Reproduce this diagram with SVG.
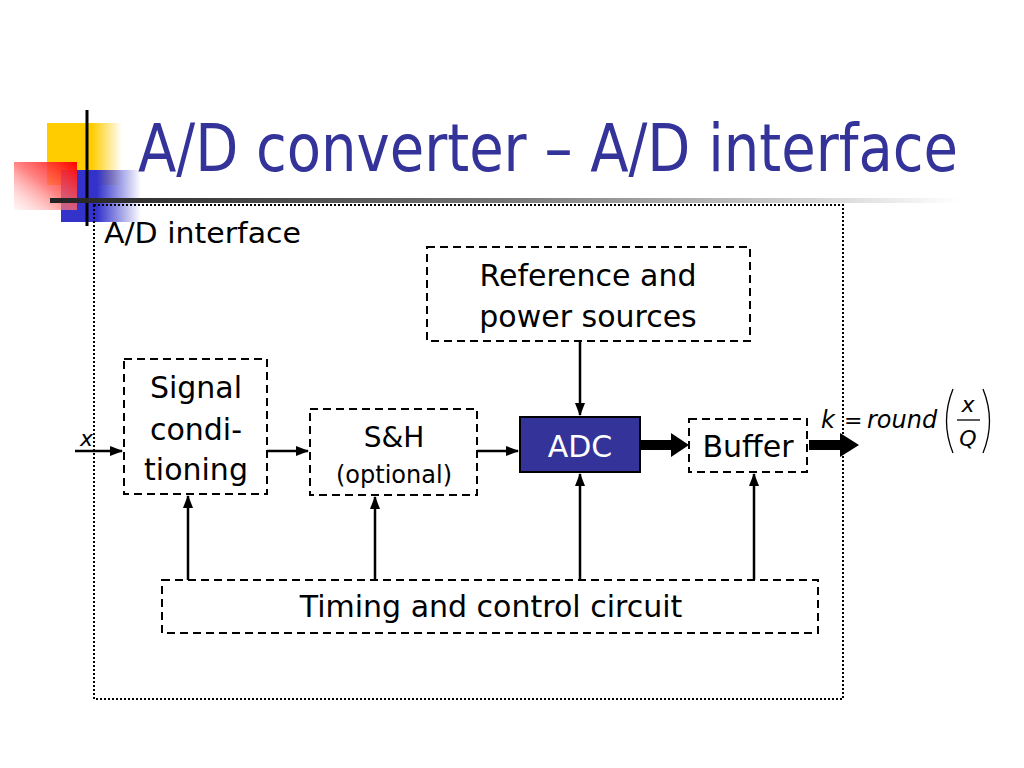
<svg xmlns="http://www.w3.org/2000/svg" width="1024" height="768" viewBox="0 0 1024 768">
<defs>
<linearGradient id="gy" x1="0" y1="0" x2="1" y2="0"><stop offset="0" stop-color="#FFCC00"/><stop offset="0.6" stop-color="#FFCC00"/><stop offset="1" stop-color="#FFCC00" stop-opacity="0"/></linearGradient>
<linearGradient id="gb" x1="0" y1="0" x2="1" y2="0"><stop offset="0" stop-color="#3333CC"/><stop offset="0.45" stop-color="#3333CC"/><stop offset="1" stop-color="#3333CC" stop-opacity="0"/></linearGradient>
<linearGradient id="gr" x1="1" y1="0" x2="0" y2="1"><stop offset="0" stop-color="#FF0000"/><stop offset="0.5" stop-color="#FF6666" stop-opacity="0.8"/><stop offset="1" stop-color="#FFCCCC" stop-opacity="0.2"/></linearGradient>
<linearGradient id="gl" x1="0" y1="0" x2="1" y2="0"><stop offset="0" stop-color="#222"/><stop offset="0.5" stop-color="#777"/><stop offset="1" stop-color="#fff"/></linearGradient>
<marker id="ah" markerWidth="13" markerHeight="10" refX="12" refY="5" orient="auto" markerUnits="userSpaceOnUse"><path d="M0,0 L13,5 L0,10 Z" fill="#000"/></marker>
</defs>
<style>
text{font-family:"DejaVu Sans","Liberation Sans",sans-serif;fill:#000}
.t{font-size:30px}
.box{fill:#fff;stroke:#000;stroke-width:2;stroke-dasharray:8,5}
.ln{stroke:#000;stroke-width:2.5;fill:none}
.it{font-style:italic}
</style>
<g id="deco">
<rect x="47" y="123" width="75" height="62" fill="url(#gy)"/>
<rect x="61" y="170" width="80" height="52" fill="url(#gb)"/>
<rect x="14" y="162" width="63" height="48" fill="url(#gr)"/>
<line x1="87" y1="110" x2="87" y2="226" stroke="#000" stroke-width="3"/>
<rect x="50" y="198" width="910" height="5" fill="url(#gl)"/>
</g>
<text x="138" y="171" font-size="66" style="fill:#333399;font-family:'DejaVu Sans Condensed','DejaVu Sans',sans-serif" textLength="820" lengthAdjust="spacingAndGlyphs">A/D converter – A/D interface</text>
<g id="outer">
<rect x="94" y="205" width="749" height="494" fill="none" stroke="#000" stroke-width="2" stroke-dasharray="2,2"/>
<text x="104" y="243" font-size="29" textLength="197" lengthAdjust="spacingAndGlyphs">A/D interface</text>
</g>
<g id="connectors">
<line class="ln" x1="75" y1="451" x2="122" y2="451" marker-end="url(#ah)"/>
<line class="ln" x1="267" y1="451" x2="308" y2="451" marker-end="url(#ah)"/>
<line class="ln" x1="477" y1="451" x2="518" y2="451" marker-end="url(#ah)"/>
<line class="ln" x1="580" y1="341" x2="580" y2="415" marker-end="url(#ah)"/>
<line class="ln" x1="188" y1="580" x2="188" y2="496" marker-end="url(#ah)"/>
<line class="ln" x1="375" y1="580" x2="375" y2="497" marker-end="url(#ah)"/>
<line class="ln" x1="580" y1="580" x2="580" y2="474" marker-end="url(#ah)"/>
<line class="ln" x1="754" y1="580" x2="754" y2="474" marker-end="url(#ah)"/>
<path d="M641,440 L671,440 L671,433 L689,445 L671,457 L671,450 L641,450 Z" fill="#000"/>
<path d="M809,440 L840,440 L840,433 L859,445 L840,457 L840,450 L809,450 Z" fill="#000"/>
</g>
<text x="80" y="446" font-size="22" class="it">x</text>
<g id="ref">
<rect class="box" x="427" y="247" width="323" height="94"/>
<text class="t" x="588" y="286" text-anchor="middle">Reference and</text>
<text class="t" x="588" y="327" text-anchor="middle">power sources</text>
</g>
<g id="sig">
<rect class="box" x="124" y="359" width="143" height="135"/>
<text class="t" x="196" y="398" text-anchor="middle">Signal</text>
<text class="t" x="196" y="440" text-anchor="middle">condi-</text>
<text class="t" x="196" y="480" text-anchor="middle">tioning</text>
</g>
<g id="sh">
<rect class="box" x="310" y="409" width="167" height="86"/>
<text x="394" y="447" font-size="28" text-anchor="middle">S&amp;H</text>
<text x="394" y="483" font-size="24" text-anchor="middle">(optional)</text>
</g>
<g id="adc">
<rect x="520" y="417" width="120" height="55" fill="#333399" stroke="#000" stroke-width="2"/>
<text class="t" x="580" y="457" text-anchor="middle" style="fill:#fff">ADC</text>
</g>
<g id="buffer">
<rect class="box" x="689" y="419" width="118" height="53"/>
<text class="t" x="748" y="457" text-anchor="middle">Buffer</text>
</g>
<g id="timing">
<rect class="box" x="162" y="580" width="656" height="53"/>
<text class="t" x="491" y="617" text-anchor="middle">Timing and control circuit</text>
</g>
<g id="formula">
<text x="821" y="428" font-size="24" class="it">k</text>
<text x="844" y="428" font-size="22">=</text>
<text x="867" y="428" font-size="24" class="it">round</text>
<path d="M953,389 Q940,421 953,453" fill="none" stroke="#000" stroke-width="1.3"/>
<path d="M983,389 Q996,421 983,453" fill="none" stroke="#000" stroke-width="1.3"/>
<text x="968" y="412" font-size="22" class="it" text-anchor="middle">x</text>
<line x1="957" y1="420" x2="980" y2="420" stroke="#000" stroke-width="1.3"/>
<text x="968" y="446" font-size="22" class="it" text-anchor="middle">Q</text>
</g>
</svg>
